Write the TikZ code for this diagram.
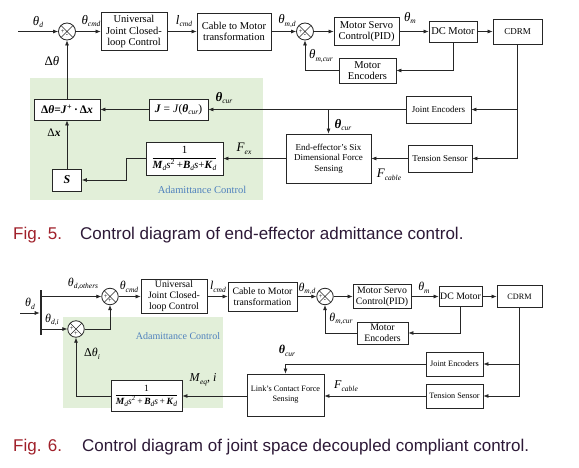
\documentclass[tikz,border=0pt]{standalone}
\usepackage{fontspec}
\setmainfont{Liberation Serif}
\newfontfamily\capfont{Liberation Sans}
\usetikzlibrary{arrows.meta,calc}
\definecolor{lgreen}{RGB}{226,239,217}
\definecolor{ablue}{RGB}{79,129,189}
\definecolor{figred}{RGB}{160,32,42}
\definecolor{captxt}{RGB}{45,25,55}
\newcommand{\sbs}[1]{\raisebox{-0.45ex}{\fontsize{7.5}{7.5}\selectfont\textit{#1}}}
\newcommand{\thl}{\textit{θ}}
\newcommand{\bth}{\textbf{\textit{θ}}}
\begin{document}
\begin{tikzpicture}[x=1pt,y=-1pt,
  blk/.style={draw=black!85, line width=0.8pt, fill=white, align=center, inner sep=1pt, font=\fontsize{10.5}{11.6}\selectfont},
  sblk/.style={blk, font=\fontsize{9}{10.5}\selectfont},
  tblk/.style={blk, font=\fontsize{8.2}{10}\selectfont},
  sumj/.style={circle, draw=black!85, line width=0.8pt, fill=white, minimum size=17pt, inner sep=0pt,
     path picture={\draw[line width=0.6pt] (path picture bounding box.north west) -- (path picture bounding box.south east)
       (path picture bounding box.north east) -- (path picture bounding box.south west);}},
  sgn/.style={font=\fontsize{6.5}{6.5}\selectfont, inner sep=0pt},
  conn/.style={line width=0.7pt, draw=black!85, -{Latex[length=5pt,width=4pt]}},
  lab/.style={font=\fontsize{13}{13}\selectfont, inner sep=0pt},
  slab/.style={font=\fontsize{11.5}{11.5}\selectfont, inner sep=0pt},
  captionstyle/.style={anchor=base west, inner sep=0pt, font=\capfont\fontsize{17}{17}\selectfont}
]
\useasboundingbox (0,0) rectangle (579,468);
\fill[white] (0,0) rectangle (579,468);
% ================= Fig. 5 =================
\fill[lgreen] (30,78) rectangle (263,200);
\node[text=ablue, font=\fontsize{10.5}{10.5}\selectfont] (admlabA) at (202,190) {Adamittance Control};

\coordinate (inA) at (18,31.5);
\node[sumj] (sA) at (67,31.5) {};
\node[sgn] (sApl) at ($(sA.center)+(-4.3,0)$) {+};
\node[sgn] (sAmi) at ($(sA.center)+(0,4.3)$) {-};
\node[blk, minimum width=66, minimum height=38] (univA) at (134,31.5) {Universal\\Joint Closed-\\loop Control};
\node[blk, minimum width=74, minimum height=37] (cabA) at (234,31.5) {Cable to Motor\\transformation};
\node[sumj] (sB) at (305,31.5) {};
\node[sgn] (sBpl) at ($(sB.center)+(-4.3,0)$) {+};
\node[sgn] (sBmi) at ($(sB.center)+(0,4.3)$) {-};
\node[blk, minimum width=65, minimum height=28] (servoA) at (366.5,31.5) {Motor Servo\\Control(PID)};
\node[blk, minimum width=48, minimum height=21] (dcA) at (453,31.5) {DC Motor};
\node[sblk, minimum width=49, minimum height=25] (cdrmA) at (517.5,31.5) {CDRM};
\node[blk, minimum width=57, minimum height=25] (mencA) at (367.5,70.5) {Motor\\Encoders};
\node[sblk, minimum width=65, minimum height=27] (jencA) at (438.5,109.5) {Joint Encoders};
\node[sblk, minimum width=64, minimum height=27] (tensA) at (440,158.5) {Tension Sensor};
\node[blk, minimum width=59, minimum height=21, font=\fontsize{11.5}{12}\selectfont] (jA) at (178.5,109.5) {\textbf{\textit{J}} = \textit{J}(\bth\sbs{cur})};
\node[blk, minimum width=66, minimum height=21, font=\fontsize{11.5}{12}\selectfont] (dthA) at (67,109.5) {\textbf{Δ\textit{θ}=\textit{J}}\textsuperscript{\textbf{+}}\,\textbf{·}\,\textbf{Δ\textit{x}}};
\node[sblk, minimum width=85, minimum height=49] (eeA) at (328.5,158.5) {End-effector's Six\\Dimensional Force\\Sensing};
\node[blk, minimum width=77, minimum height=33, font=\fontsize{11}{12}\selectfont] (admA) at (184.5,158.5)
  {$\displaystyle\frac{\mbox{1}}{\mbox{\textbf{\textit{M}}\sbs{d}\textit{s}\textsuperscript{2}\,+\textbf{\textit{B}}\sbs{d}\textit{s}+\textbf{\textit{K}}\sbs{d}}}$};
\node[blk, minimum width=29, minimum height=22, font=\fontsize{12}{12}\selectfont] (sbA) at (67,180) {\textbf{\textit{S}}};

\draw[conn] (inA) -- (sA.west);
\draw[conn] (sA.east) -- (univA.west);
\draw[conn] (univA.east) -- (cabA.west);
\draw[conn] (cabA.east) -- (sB.west);
\draw[conn] (sB.east) -- (servoA.west);
\draw[conn] (servoA.east) -- (dcA.west);
\draw[conn] (dcA.east) -- (cdrmA.west);
\draw[conn] (dcA.south) |- (mencA.east);
\draw[conn] (mencA.west) -| (sB.south);
\draw[conn] (cdrmA.south) |- (tensA.east);
\draw[conn] (cdrmA.south |- jencA.east) -- (jencA.east);
\draw[conn] (jencA.west) -- (jA.east);
\draw[conn] (eeA.north |- jencA.west) -- (eeA.north);
\draw[conn] (jA.west) -- (dthA.east);
\draw[conn] (dthA.north) -- (sA.south);
\draw[conn] (tensA.west) -- (eeA.east);
\draw[conn] (eeA.west) -- (admA.east);
\draw[conn] (admA.west) -- ++(-19,0) |- (sbA.east);
\draw[conn] (sbA.north) -- (dthA.south);

\node[lab] (lthdA) at (38,22) {\thl\sbs{d}};
\node[lab] (lthcA) at (91,21) {\thl\sbs{cmd}};
\node[lab] (llcA) at (184,21) {\textit{l}\sbs{cmd}};
\node[lab] (lthmdA) at (287,21) {\thl\sbs{m,d}};
\node[lab] (lthmA) at (410,18) {\thl\sbs{m}};
\node[lab] (lthmcA) at (321,56) {\thl\sbs{m,cur}};
\node[lab] (ldthA) at (52,61) {Δ\thl};
\node[lab] (lcur1A) at (224,98) {\bth\sbs{cur}};
\node[lab] (lcur2A) at (343,125) {\bth\sbs{cur}};
\node[lab] (lfexA) at (244,149) {\textit{F}\sbs{ex}};
\node[lab] (lfcA) at (389,175) {\textit{F}\sbs{cable}};
\node[slab] (ldxA) at (54,133) {Δ\textbf{\textit{x}}};

\node[captionstyle, text=figred] (f5) at (13,240) {Fig. 5.};
\node[captionstyle, text=captxt] (c5) at (80,240) {Control diagram of end-effector admittance control.};

% ================= Fig. 6 =================
\fill[lgreen] (63,317) rectangle (223,408);
\node[text=ablue, font=\fontsize{10}{10}\selectfont] (admlabB) at (178,336) {Adamittance Control};

\node[fill=black!85, minimum width=2.2, minimum height=45, inner sep=0pt] (bar) at (41,312.5) {};
\coordinate (inB) at (20,313);
\node[sumj, minimum size=16.5pt] (s1) at (110,296.5) {};
\node[sgn] (s1pl) at ($(s1.center)+(-4.2,0)$) {+};
\node[sgn] (s1pl2) at ($(s1.center)+(0,4.2)$) {+};
\node[sumj, minimum size=16.5pt] (s2) at (76,329) {};
\node[sgn] (s2pl) at ($(s2.center)+(-4.2,0)$) {+};
\node[sgn] (s2pl2) at ($(s2.center)+(0,4.2)$) {+};
\node[blk, font=\fontsize{9.8}{11}\selectfont, minimum width=66, minimum height=34] (univB) at (174,296.5) {Universal\\Joint Closed-\\loop Control};
\node[blk, font=\fontsize{9.8}{11}\selectfont, minimum width=69, minimum height=29] (cabB) at (262.5,296.5) {Cable to Motor\\transformation};
\node[sumj, minimum size=16.5pt] (s3) at (325,296.5) {};
\node[sgn] (s3pl) at ($(s3.center)+(-4.2,0)$) {+};
\node[sgn] (s3mi) at ($(s3.center)+(0,4.2)$) {-};
\node[blk, font=\fontsize{9.8}{11}\selectfont, minimum width=58, minimum height=24] (servoB) at (382,296.5) {Motor Servo\\Control(PID)};
\node[blk, font=\fontsize{9.8}{11}\selectfont, minimum width=43, minimum height=20] (dcB) at (460.5,296.5) {DC Motor};
\node[tblk, minimum width=45, minimum height=22] (cdrmB) at (519.5,296.5) {CDRM};
\node[blk, font=\fontsize{9.8}{11}\selectfont, minimum width=51, minimum height=22] (mencB) at (382.5,333) {Motor\\Encoders};
\node[tblk, minimum width=57, minimum height=24] (jencB) at (454.5,364) {Joint Encoders};
\node[tblk, minimum width=57, minimum height=24] (tensB) at (454.5,396) {Tension Sensor};
\node[tblk, minimum width=77, minimum height=42] (linkB) at (285.5,395) {Link's Contact Force\\Sensing};
\node[blk, minimum width=71, minimum height=31, font=\fontsize{9.5}{10}\selectfont] (admB) at (146.5,396)
  {$\displaystyle\frac{\mbox{1}}{\mbox{\textbf{\textit{M}}\sbs{d}\textit{s}\textsuperscript{2}\,+\,\textbf{\textit{B}}\sbs{d}\textit{s}\,+\,\textbf{\textit{K}}\sbs{d}}}$};

\draw[conn] (inB) -- (inB -| bar.west);
\draw[conn] (bar.east |- s1.west) -- (s1.west);
\draw[conn] (bar.east |- s2.west) -- (s2.west);
\draw[conn] (s2.east) -| (s1.south);
\draw[conn] (s1.east) -- (univB.west);
\draw[conn] (univB.east) -- (cabB.west);
\draw[conn] (cabB.east) -- (s3.west);
\draw[conn] (s3.east) -- (servoB.west);
\draw[conn] (servoB.east) -- (dcB.west);
\draw[conn] (dcB.east) -- (cdrmB.west);
\draw[conn] (dcB.south) |- (mencB.east);
\draw[conn] (mencB.west) -| (s3.south);
\draw[conn] (cdrmB.south) |- (tensB.east);
\draw[conn] (cdrmB.south |- jencB.east) -- (jencB.east);
\draw[conn] (jencB.west) -| (linkB.north);
\draw[conn] (tensB.west) -- (tensB.west -| linkB.east);
\draw[conn] (linkB.west |- admB.east) -- (admB.east);
\draw[conn] (admB.west) -| (s2.south);

\node[lab, font=\fontsize{12}{12}\selectfont] (lthdB) at (30,304) {\thl\sbs{d}};
\node[lab, font=\fontsize{12}{12}\selectfont] (lthoB) at (83,284) {\thl\sbs{d,others}};
\node[lab, font=\fontsize{12}{12}\selectfont] (lthiB) at (52,320) {\thl\sbs{d,i}};
\node[lab, font=\fontsize{12}{12}\selectfont] (lthcB) at (129,287) {\thl\sbs{cmd}};
\node[lab, font=\fontsize{12}{12}\selectfont] (llcB) at (218,287) {\textit{l}\sbs{cmd}};
\node[lab, font=\fontsize{12}{12}\selectfont] (lthmdB) at (307,289) {\thl\sbs{m,d}};
\node[lab, font=\fontsize{12}{12}\selectfont] (lthmB) at (424,288) {\thl\sbs{m}};
\node[lab, font=\fontsize{12}{12}\selectfont] (lthmcB) at (341,319) {\thl\sbs{m,cur}};
\node[lab, font=\fontsize{12}{12}\selectfont] (lcurB) at (287,351) {\bth\sbs{cur}};
\node[lab, font=\fontsize{12}{12}\selectfont] (lfcB) at (346,386) {\textit{F}\sbs{cable}};
\node[lab, font=\fontsize{12}{12}\selectfont] (lmeqB) at (203,380) {\textit{M}\sbs{eq}, \textit{i}};
\node[lab, font=\fontsize{12}{12}\selectfont] (ldthB) at (92,354) {Δ\thl\sbs{i}};

\node[captionstyle, text=figred] (f6) at (13,451) {Fig. 6.};
\node[captionstyle, text=captxt] (c6) at (82,451) {Control diagram of joint space decoupled compliant control.};
\end{tikzpicture}
\end{document}
